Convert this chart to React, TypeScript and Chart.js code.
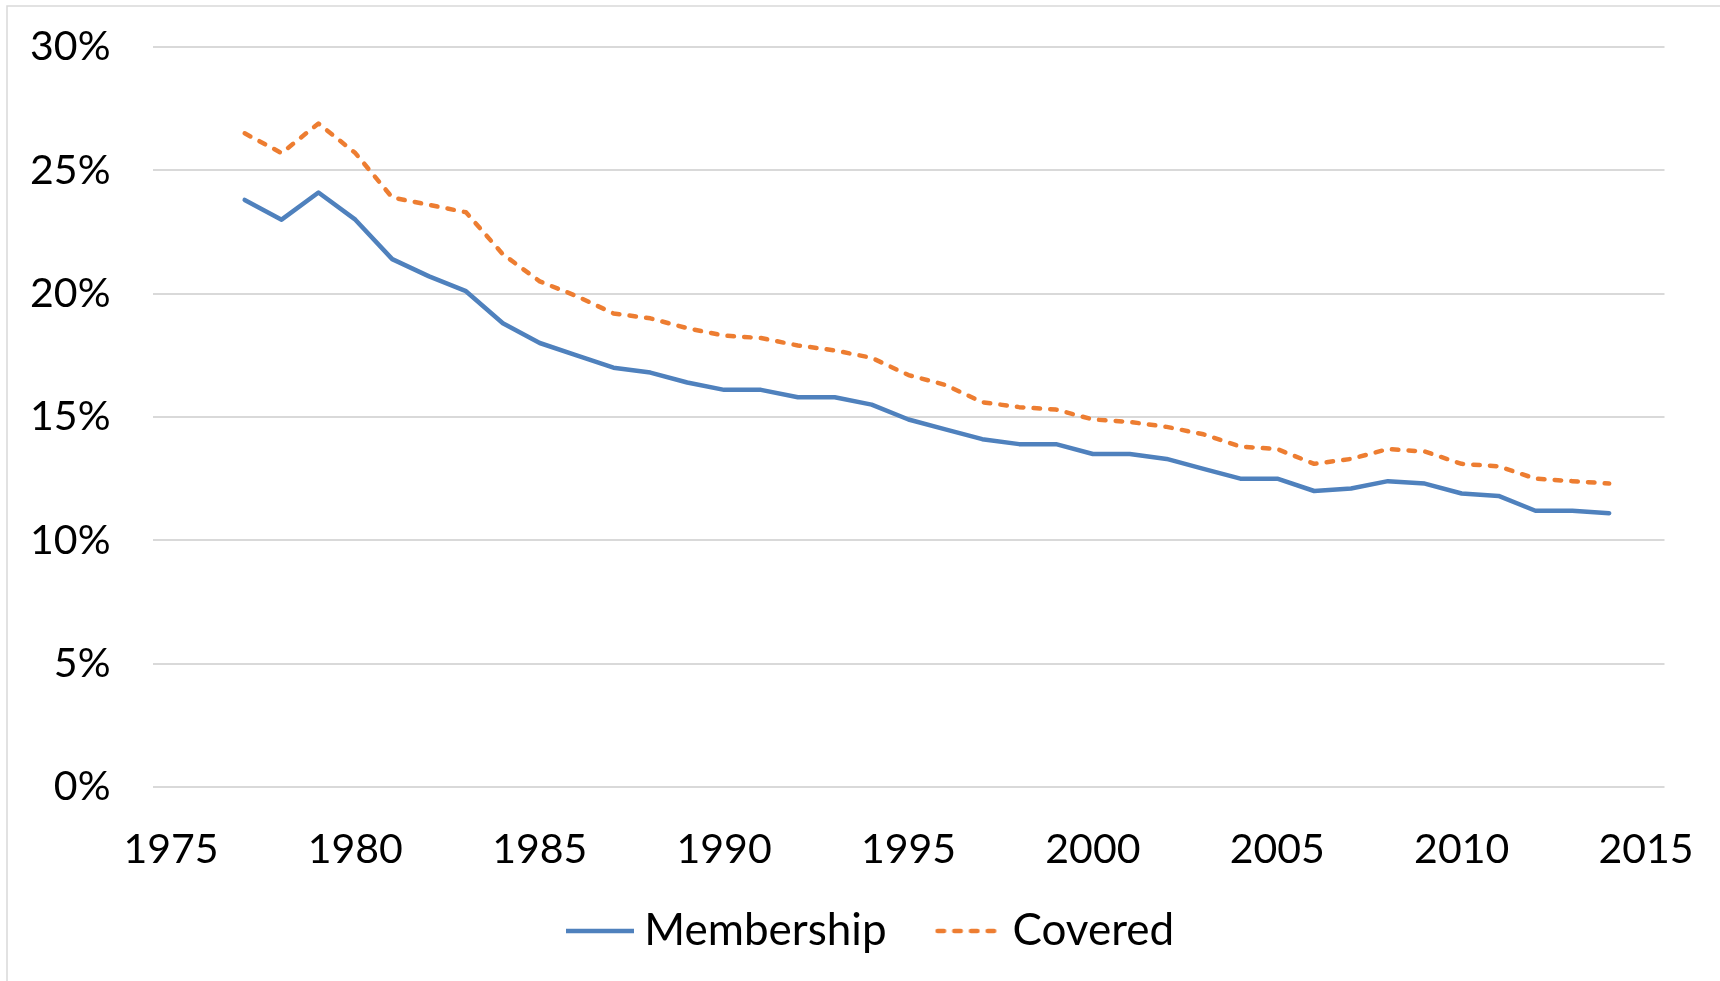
import React, { useEffect, useRef } from "react";
import { Chart, registerables } from "chart.js";

Chart.register(...registerables);

const years = [
  1977, 1978, 1979, 1980, 1981, 1982, 1983, 1984, 1985, 1986, 1987, 1988, 1989,
  1990, 1991, 1992, 1993, 1994, 1995, 1996, 1997, 1998, 1999, 2000, 2001, 2002,
  2003, 2004, 2005, 2006, 2007, 2008, 2009, 2010, 2011, 2012, 2013, 2014,
];
const membership = [
  23.8, 23.0, 24.1, 23.0, 21.4, 20.7, 20.1, 18.8, 18.0, 17.5, 17.0, 16.8, 16.4,
  16.1, 16.1, 15.8, 15.8, 15.5, 14.9, 14.5, 14.1, 13.9, 13.9, 13.5, 13.5, 13.3,
  12.9, 12.5, 12.5, 12.0, 12.1, 12.4, 12.3, 11.9, 11.8, 11.2, 11.2, 11.1,
];
const covered = [
  26.5, 25.7, 26.9, 25.7, 23.9, 23.6, 23.3, 21.6, 20.5, 19.9, 19.2, 19.0, 18.6,
  18.3, 18.2, 17.9, 17.7, 17.4, 16.7, 16.3, 15.6, 15.4, 15.3, 14.9, 14.8, 14.6,
  14.3, 13.8, 13.7, 13.1, 13.3, 13.7, 13.6, 13.1, 13.0, 12.5, 12.4, 12.3,
];
const xTickYears = [1975, 1980, 1985, 1990, 1995, 2000, 2005, 2010, 2015];
const yTickValues = [0, 5, 10, 15, 20, 25, 30];
const seriesNames = ["Membership", "Covered"];

const FAMILY = "Lato, 'DejaVu Sans', sans-serif";
const TICK_FONT = { family: FAMILY, size: 41 };
const LEGEND_FONT = { family: FAMILY, size: 44 };

const BLUE = "#4F81BD";
const ORANGE = "#ED7D31";
const LINE_W = 4.5;
const DASH = [6.5, 10.2];
const GLYPH_W = 68;

function legendGlyph(color: string, dash: number[]): HTMLCanvasElement {
  const c = document.createElement("canvas");
  c.width = GLYPH_W;
  c.height = 8;
  const g = c.getContext("2d")!;
  g.strokeStyle = color;
  g.lineWidth = LINE_W;
  g.lineCap = dash.length ? "round" : "butt";
  g.setLineDash(dash);
  g.beginPath();
  g.moveTo(dash.length ? 3 : 0, 4);
  g.lineTo(GLYPH_W, 4);
  g.stroke();
  return c;
}

const framePlugin = {
  id: "frame",
  afterLayout(chart: any) {
    const lg = chart.legend;
    if (lg) {
      const shiftX = 44;
      const shiftY = -18;
      lg.left += shiftX;
      lg.right += shiftX;
      lg.top += shiftY;
      lg.bottom += shiftY;
    }
  },
  beforeDraw(chart: any) {
    const ctx = chart.ctx;
    ctx.save();
    ctx.fillStyle = "#ffffff";
    ctx.fillRect(0, 0, chart.width, chart.height);
    ctx.strokeStyle = "#d9d9d9";
    ctx.lineWidth = 1.5;
    ctx.beginPath();
    ctx.moveTo(7, chart.height);
    ctx.lineTo(7, 6);
    ctx.lineTo(chart.width, 6);
    ctx.stroke();
    ctx.restore();
  },
};

export default function App() {
  const ref = useRef<HTMLCanvasElement>(null);

  useEffect(() => {
    if (!ref.current) return;
    const chart = new Chart(ref.current, {
      type: "line",
      data: {
        datasets: [
          {
            label: seriesNames[0],
            data: years.map((y, i) => ({ x: y, y: membership[i] })),
            borderColor: BLUE,
            backgroundColor: BLUE,
            borderWidth: LINE_W,
            pointRadius: 0,
            pointStyle: legendGlyph(BLUE, []),
            borderJoinStyle: "round",
            borderCapStyle: "round",
            tension: 0,
          },
          {
            label: seriesNames[1],
            data: years.map((y, i) => ({ x: y, y: covered[i] })),
            borderColor: ORANGE,
            backgroundColor: ORANGE,
            borderWidth: LINE_W,
            borderDash: DASH,
            pointRadius: 0,
            pointStyle: legendGlyph(ORANGE, DASH),
            borderJoinStyle: "round",
            borderCapStyle: "round",
            tension: 0,
          },
        ],
      },
      options: {
        responsive: false,
        animation: false,
        layout: { padding: { top: 47, right: 55.5, left: 0, bottom: 0 } },
        scales: {
          x: {
            type: "linear",
            min: 1974.5,
            max: 2015.5,
            grid: { display: false, drawTicks: false },
            border: { display: false },
            ticks: {
              font: TICK_FONT,
              color: "#000000",
              padding: 38.5,
              maxRotation: 0,
              autoSkip: false,
              includeBounds: false,
              callback: (v: any) => String(v),
            },
            afterBuildTicks: (s: any) => {
              s.ticks = xTickYears.map((v) => ({ value: v }));
            },
            afterFit: (s: any) => {
              s.height = 80;
              s.paddingLeft = 0;
              s.paddingRight = 0;
            },
          },
          y: {
            min: 0,
            max: 30,
            grid: { color: "#d9d9d9", lineWidth: 2, drawTicks: false },
            border: { display: false },
            ticks: {
              font: TICK_FONT,
              color: "#000000",
              padding: 42,
              callback: (v: any) => v + "%",
            },
            afterBuildTicks: (s: any) => {
              s.ticks = yTickValues.map((v) => ({ value: v }));
            },
            afterFit: (s: any) => {
              s.width = 152.5;
              s.paddingTop = 0;
              s.paddingBottom = 0;
            },
          },
        },
        plugins: {
          legend: {
            position: "bottom",
            labels: {
              usePointStyle: true,
              pointStyleWidth: 44,
              font: LEGEND_FONT,
              color: "#000000",
              padding: 60,
            },
          },
          tooltip: { enabled: false },
        },
      } as any,
      plugins: [framePlugin],
    });
    return () => chart.destroy();
  }, []);

  return (
    <div style={{ position: "absolute", left: 0, top: 0, width: 1720, height: 981 }}>
      <canvas ref={ref} width={1720} height={981} style={{ width: 1720, height: 981, display: "block" }} />
    </div>
  );
}
